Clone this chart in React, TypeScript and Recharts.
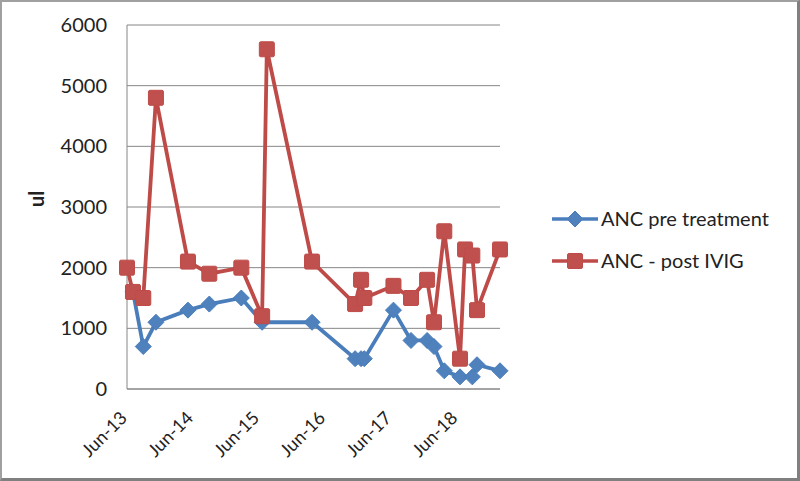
import { CartesianGrid, Line, LineChart, XAxis, YAxis } from "recharts";

const visitDates = [
  "2013-05-03", "2013-06-05", "2013-08-01", "2013-10-10", "2014-04-05", "2014-08-01",
  "2015-01-25", "2015-05-20", "2015-06-15", "2016-02-20", "2016-10-15", "2016-11-17",
  "2016-12-05", "2017-05-15", "2017-08-20", "2017-11-17", "2017-12-25", "2018-02-20",
  "2018-05-18", "2018-06-15", "2018-07-25", "2018-08-20", "2018-12-25",
];
const ancPre = [
  null, 1600, 700, 1100, 1300, 1400, 1500, 1100, null, 1100, 500, 500,
  500, 1300, 800, 800, 700, 300, 200, null, 200, 400, 300,
];
const ancPost = [
  2000, 1600, 1500, 4800, 2100, 1900, 2000, 1200, 5600, 2100, 1400, 1800,
  1500, 1700, 1500, 1800, 1100, 2600, 500, 2300, 2200, 1300, 2300,
];
const xTickDates = ["2013-06-01", "2014-06-01", "2015-06-01", "2016-06-01", "2017-06-01", "2018-06-01"];
const yTicks = [0, 1000, 2000, 3000, 4000, 5000, 6000];

const MONTHS = ["Jan", "Feb", "Mar", "Apr", "May", "Jun", "Jul", "Aug", "Sep", "Oct", "Nov", "Dec"];
const BLUE = "#4a7ebb";
const BLUE_FILL = "#4f81bd";
const RED = "#be4b48";
const RED_FILL = "#c0504d";
const FONT = "Lato, 'Open Sans', sans-serif";

const toTime = (d: string) => Date.parse(d + "T00:00:00Z");

const data = visitDates.map((d, i) => ({ t: toTime(d), pre: ancPre[i], post: ancPost[i] }));

function formatMonth(t: number) {
  const d = new Date(t);
  return `${MONTHS[d.getUTCMonth()]}-${String(d.getUTCFullYear()).slice(2)}`;
}

function Diamond({ cx, cy }: any) {
  if (cx == null || cy == null) return null;
  const r = 8;
  return <polygon points={`${cx},${cy - r} ${cx + r},${cy} ${cx},${cy + r} ${cx - r},${cy}`} fill={BLUE_FILL} stroke={BLUE} strokeWidth={1} />;
}

function Square({ cx, cy }: any) {
  if (cx == null || cy == null) return null;
  const r = 7.5;
  return <rect x={cx - r} y={cy - r} width={r * 2} height={r * 2} rx={1.5} fill={RED_FILL} stroke={RED} strokeWidth={1} />;
}

function DateTick({ x, y, payload }: any) {
  const ax = x - 4;
  const ay = y + 22;
  return (
    <text x={ax} y={ay} textAnchor="end" fontSize={18} fill="#222" fontFamily={FONT}
      transform={`rotate(-45 ${ax} ${ay})`}>
      {formatMonth(payload.value)}
    </text>
  );
}

function LegendRow({ y, color, marker, label }: { y: number; color: string; marker: "diamond" | "square"; label: string }) {
  return (
    <g>
      <line x1={552} x2={598} y1={y} y2={y} stroke={color} strokeWidth={3.5} />
      {marker === "diamond" ? <Diamond cx={575} cy={y} /> : <Square cx={575} cy={y} />}
      <text x={601} y={y} dy={7} fontSize={20} fill="#222" fontFamily={FONT}>{label}</text>
    </g>
  );
}

export default function App() {
  return (
    <div style={{ position: "fixed", left: 0, top: 0, width: 800, height: 481, background: "#fff" }}>
      <LineChart width={800} height={481} data={data} margin={{ top: 25, right: 300, bottom: 62, left: 0 }}>
        <CartesianGrid horizontal vertical={false} stroke="#868686" strokeWidth={1} />
        <XAxis dataKey="t" type="number" scale="time" domain={["dataMin", "dataMax"]} ticks={xTickDates.map(toTime)}
          tick={<DateTick />} tickLine={false} axisLine={{ stroke: "#868686" }} interval={0} />
        <YAxis domain={[0, 6000]} ticks={yTicks} width={127} tickLine={false} axisLine={{ stroke: "#868686" }}
          tickMargin={14} tick={{ fontSize: 20, fill: "#222", fontFamily: FONT }}
          label={{ value: "ul", angle: -90, position: "insideLeft", offset: 37, fontSize: 20, fontWeight: "bold", fill: "#222", fontFamily: FONT }} />
        <Line dataKey="pre" stroke={BLUE} strokeWidth={3.8} dot={<Diamond />} connectNulls isAnimationActive={false} />
        <Line dataKey="post" stroke={RED} strokeWidth={3.8} dot={<Square />} connectNulls isAnimationActive={false} />
        <LegendRow y={219} color={BLUE} marker="diamond" label="ANC pre treatment" />
        <LegendRow y={261} color={RED} marker="square" label="ANC - post IVIG" />
      </LineChart>
      <div style={{ position: "absolute", inset: 0, boxSizing: "border-box", pointerEvents: "none",
        borderLeft: "2px solid #a0a0a0", borderTop: "2px solid #a0a0a0", borderRight: "3px solid #808080", borderBottom: "3px solid #808080" }} />
    </div>
  );
}
